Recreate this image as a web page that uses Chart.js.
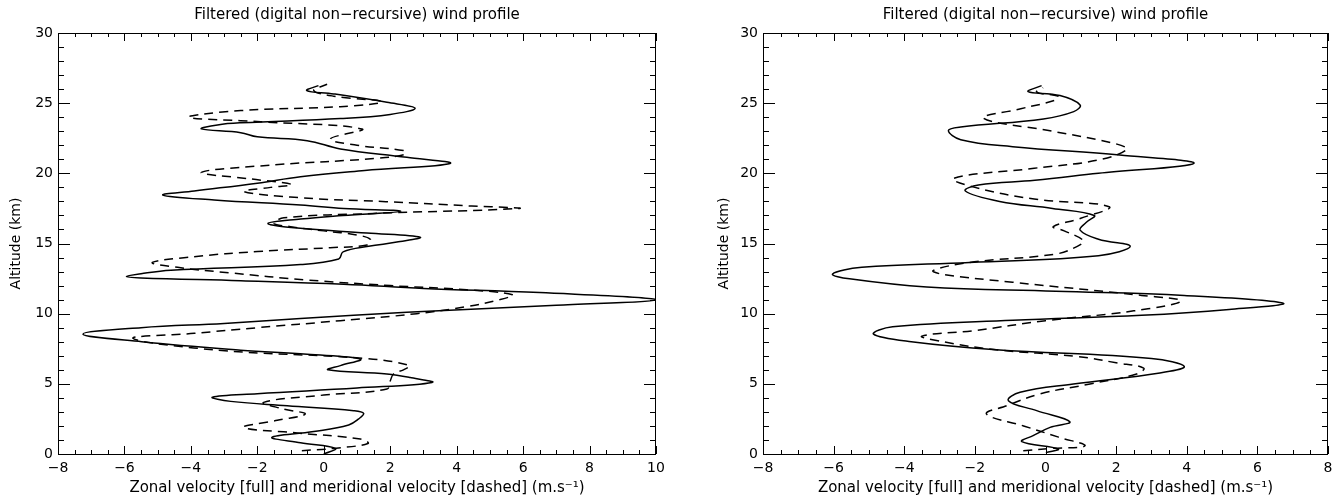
<!DOCTYPE html>
<html><head><meta charset="utf-8">
<script src="https://cdn.jsdelivr.net/npm/chart.js@4/dist/chart.umd.min.js"></script>
<style>
html,body{margin:0;padding:0;background:#fff;}
#wrap{position:relative;width:1342px;height:503px;overflow:hidden;}
canvas{position:absolute;top:0;}
#cl{left:0;} #cr{left:671px;}
</style></head><body>
<div id="wrap"><canvas id="cl" width="671" height="503"></canvas><canvas id="cr" width="671" height="503"></canvas></div>
<script>
const plotTitle = 'Filtered (digital non\u2212recursive) wind profile';
const xAxisTitle = 'Zonal velocity [full] and meridional velocity [dashed] (m.s\u207B\u00B9)';
const yAxisTitle = 'Altitude (km)';
const leftXTicks = [-8,-6,-4,-2,0,2,4,6,8,10];
const rightXTicks = [-8,-6,-4,-2,0,2,4,6,8];
const yTicks = [0,5,10,15,20,25,30];

// Left panel, zonal (full line)
const leftZonalAlt = [0.0,0.4,0.8,1.19,1.6,2.07,2.5,2.9,3.09,3.44,3.75,4.05,4.3,4.7,5.1,5.45,5.7,6.0,6.3,6.76,7.1,7.4,8.0,8.54,9.0,9.3,9.65,10.1,10.6,11.0,11.5,11.8,12.1,12.35,12.55,12.65,12.85,13.1,13.5,13.9,14.4,14.8,15.1,15.45,15.75,16.1,16.43,16.74,17.0,17.3,17.5,17.74,18.1,18.45,18.74,19.3,19.76,20.2,20.7,21.14,21.74,22.33,22.6,22.9,23.17,23.45,23.6,23.9,24.2,24.64,25.06,25.66,25.9,26.25];
const leftZonal    = [0.0,0.35,-0.7,-1.56,-0.3,0.75,1.05,1.2,0.9,-1.1,-2.8,-3.35,-2.0,1.0,3.26,2.6,1.9,0.13,0.5,1.1,-0.5,-2.5,-5.48,-7.25,-5.5,-3.0,-0.7,2.5,7.0,10.0,6.5,3.0,0.6,-2.5,-5.5,-5.94,-5.5,-4.6,-0.7,0.45,0.58,1.35,2.2,2.9,1.3,-0.8,-1.68,-0.7,0.58,2.32,0.6,-0.7,-3.3,-4.84,-3.9,-2.0,-0.7,1.23,3.8,2.5,0.5,-0.5,-2.0,-2.5,-3.68,-3.2,-2.5,0.5,2.0,2.75,1.9,0.3,-0.51,-0.16];
// Left panel, meridional (dashed line)
const leftMeridAlt = [0.24,0.4,0.75,1.07,1.5,1.9,2.4,2.85,3.2,3.68,4.2,4.63,5.2,5.7,6.0,6.3,6.8,7.4,8.23,8.6,9.0,9.5,10.0,10.5,11.0,11.35,11.7,12.0,12.4,12.9,13.3,13.65,14.06,14.43,14.7,14.9,15.3,15.6,15.9,16.2,16.43,16.83,17.14,17.5,17.67,17.98,18.26,18.7,19.0,19.21,19.6,20.07,20.6,21.07,21.36,21.62,22.0,22.45,23.16,23.68,24.0,24.47,24.75,25.1,25.5,25.9,26.35];
const leftMerid    = [-0.66,0.3,1.33,1.1,-0.8,-2.41,-1.4,-0.56,-1.2,-1.81,0.0,1.9,2.0,2.1,2.4,2.58,1.3,-3.2,-5.74,-3.9,-2.0,0.5,2.8,4.3,5.3,5.68,4.3,2.0,-0.5,-2.8,-4.4,-5.16,-3.9,-2.0,0.19,1.3,1.4,1.0,0.0,-1.0,-1.5,-1.2,1.5,5.87,4.45,1.87,-0.7,-2.4,-1.6,-0.97,-2.2,-3.68,-1.5,1.6,2.45,2.4,1.0,0.2,1.15,-1.9,-4.06,-2.5,0.5,1.75,0.3,-0.3,0.1];

// Right panel, zonal (full line)
const rightZonalAlt = [0.1,0.36,0.88,1.31,1.9,2.3,3.09,3.8,4.4,4.99,5.77,6.24,6.8,7.43,8.0,8.54,9.06,9.53,9.88,10.3,10.75,11.3,11.6,11.9,12.48,12.83,13.3,13.65,14.13,14.8,15.3,15.95,16.5,17.0,17.5,18.0,18.74,19.17,19.5,20.0,20.71,21.3,21.9,22.4,23.05,23.3,23.88,24.4,24.87,25.54,25.82,26.25];
const rightZonal    = [0.01,0.36,-0.67,-0.35,0.13,0.69,-0.25,-1.05,-0.72,0.79,3.24,3.93,3.0,-1.4,-3.8,-4.87,-4.33,-0.93,2.72,5.2,6.73,3.93,0.29,-3.36,-5.55,-6.03,-5.2,-2.15,1.5,2.4,1.5,0.98,1.15,1.38,0.2,-1.3,-2.27,-1.9,-0.3,1.5,4.2,2.1,-0.93,-2.4,-2.75,-2.4,-0.06,0.8,0.98,0.41,-0.49,-0.11];
// Right panel, meridional (dashed line)
const rightMeridAlt = [0.24,0.4,0.59,1.2,2.0,2.85,3.44,4.28,4.99,5.7,6.12,6.5,6.95,7.43,8.0,8.4,8.8,9.5,10.2,10.9,11.3,12.24,12.8,13.07,13.65,14.25,14.8,15.2,15.9,16.2,16.8,17.62,18.17,19.0,19.64,20.36,20.95,21.7,22.1,23.0,23.93,24.6,25.25,25.5,25.78,26.1];
const rightMerid    = [-0.63,0.2,1.12,0.37,-0.62,-1.67,-1.1,-0.16,1.26,2.58,2.78,2.0,0.9,-1.4,-2.9,-3.5,-2.0,0.0,2.5,3.84,2.72,-0.93,-2.9,-3.18,-2.15,0.29,0.9,1.07,0.53,0.22,1.0,1.8,-0.32,-2.0,-2.6,-0.32,1.5,2.3,2.0,0.2,-1.76,-0.7,0.32,0.35,-0.25,-0.07];

const FONT = 'DejaVu Sans';
const toPts = (alt, vals) => alt.map((a, i) => ({x: vals[i], y: a}));
const fmt = v => (v < 0 ? '\u2212' + Math.abs(v) : String(v));

const framePlugin = {
  id: 'frame',
  afterDraw(chart) {
    const {ctx, chartArea: a, scales: {x, y}} = chart;
    ctx.save();
    ctx.strokeStyle = '#000';
    ctx.lineWidth = 1;
    ctx.strokeRect(a.left + 0.5, a.top + 0.5, a.right - a.left - 1, a.bottom - a.top);
    ctx.beginPath();
    const xmaj = 8, xmin = 4, ymaj = 12, ymin = 6;
    for (let v = x.min; v <= x.max + 1e-9; v += 0.5) {
      const p = Math.round(x.getPixelForValue(v)) + 0.5;
      const len = (Math.abs(v % 2) < 1e-9) ? xmaj : xmin;
      ctx.moveTo(p, a.bottom); ctx.lineTo(p, a.bottom - len);
      ctx.moveTo(p, a.top); ctx.lineTo(p, a.top + len);
    }
    for (let v = y.min; v <= y.max + 1e-9; v += 1) {
      const p = Math.round(y.getPixelForValue(v)) + 0.5;
      const len = (v % 5 === 0) ? ymaj : ymin;
      ctx.moveTo(a.left, p); ctx.lineTo(a.left + len, p);
      ctx.moveTo(a.right, p); ctx.lineTo(a.right - len, p);
    }
    ctx.stroke();
    ctx.fillStyle = '#000';
    ctx.font = '15px ' + FONT;
    ctx.textAlign = 'center';
    ctx.textBaseline = 'middle';
    ctx.fillText(plotTitle, (a.left + a.right) / 2, 15);
    ctx.restore();
  }
};

function makeChart(id, cfg) {
  return new Chart(document.getElementById(id), {
    type: 'scatter',
    data: {
      datasets: [
        {data: toPts(cfg.zAlt, cfg.z), showLine: true, borderColor: '#000', borderWidth: 1.5, pointRadius: 0, tension: 0.4, fill: false},
        {data: toPts(cfg.mAlt, cfg.m), showLine: true, borderColor: '#000', borderWidth: 1.5, borderDash: [9, 6], pointRadius: 0, tension: 0.4, fill: false}
      ]
    },
    options: {
      responsive: false,
      animation: false,
      devicePixelRatio: 1,
      layout: {padding: {top: 33, right: cfg.padRight, left: 0, bottom: 0}},
      plugins: {legend: {display: false}, tooltip: {enabled: false}, title: {display: false}},
      scales: {
        x: {
          type: 'linear', min: cfg.xTicks[0], max: cfg.xTicks[cfg.xTicks.length - 1],
          afterBuildTicks: s => { s.ticks = cfg.xTicks.map(v => ({value: v})); },
          afterFit: s => { s.height = 49; },
          grid: {display: false, drawTicks: false},
          border: {display: false},
          ticks: {color: '#000', font: {family: FONT, size: 14}, padding: 6, maxRotation: 0, autoSkip: false, callback: fmt},
          title: {display: true, text: xAxisTitle, color: '#000', font: {family: FONT, size: 15}, padding: {top: 0, bottom: 6}}
        },
        y: {
          type: 'linear', min: 0, max: 30,
          afterBuildTicks: s => { s.ticks = yTicks.map(v => ({value: v})); },
          afterFit: s => { s.width = cfg.yWidth; },
          grid: {display: false, drawTicks: false},
          border: {display: false},
          ticks: {color: '#000', font: {family: FONT, size: 14}, padding: 5, autoSkip: false, callback: fmt},
          title: {display: true, text: yAxisTitle, color: '#000', font: {family: FONT, size: 14}, padding: {top: cfg.yTitlePad, bottom: 0}}
        }
      }
    },
    plugins: [framePlugin]
  });
}

makeChart('cl', {zAlt: leftZonalAlt, z: leftZonal, mAlt: leftMeridAlt, m: leftMerid, xTicks: leftXTicks, padRight: 15, yWidth: 58, yTitlePad: 8});
makeChart('cr', {zAlt: rightZonalAlt, z: rightZonal, mAlt: rightMeridAlt, m: rightMerid, xTicks: rightXTicks, padRight: 14, yWidth: 92, yTitlePad: 45});
</script>
</body></html>
